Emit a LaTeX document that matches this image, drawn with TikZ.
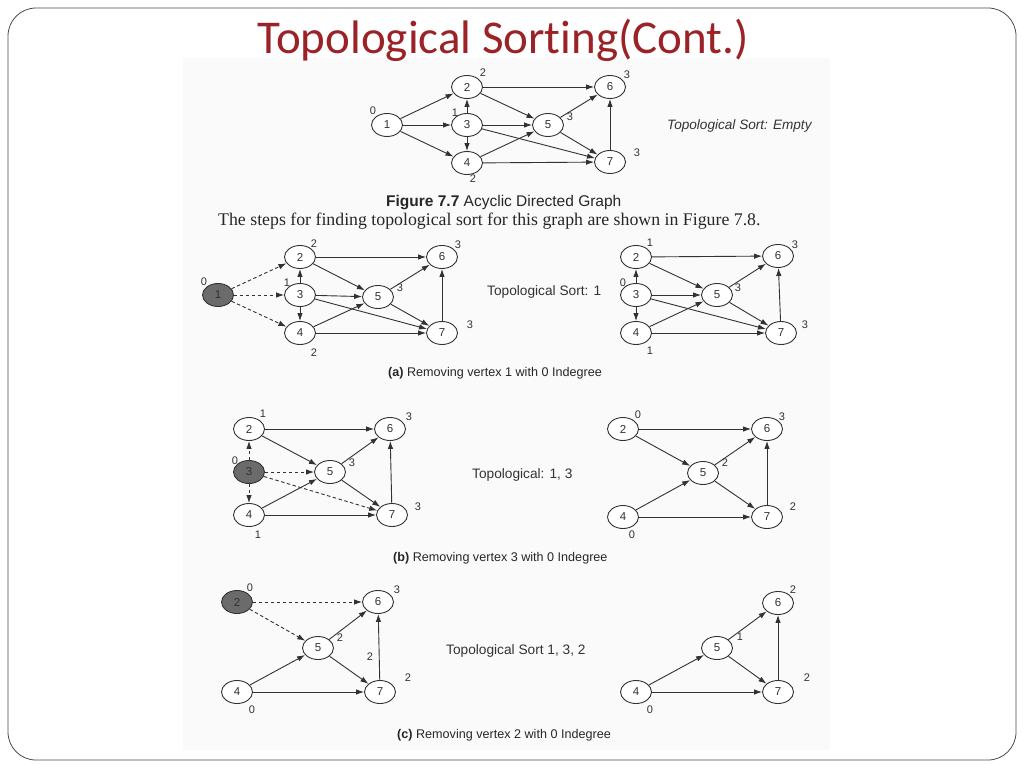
\documentclass[tikz,border=0pt]{standalone}
\usepackage{fontspec}
\setmainfont{Liberation Sans}
\newfontfamily\serifb{Liberation Serif}
\newfontfamily\titlef[Ligatures={NoCommon}]{Carlito}
\usetikzlibrary{shapes.geometric,arrows.meta}
\definecolor{titlered}{RGB}{155,34,38}
\definecolor{ink}{RGB}{50,50,50}
\begin{document}
\begin{tikzpicture}[x=1pt,y=-1pt,
  vtx/.style={ellipse,draw=ink,line width=0.9pt,fill=white,minimum width=31pt,minimum height=23pt,inner sep=0pt,font=\fontsize{11.5}{11.5}\selectfont,text=ink},
  vgray/.style={vtx,fill=black!58},
  deg/.style={font=\fontsize{11}{11}\selectfont,text=ink,inner sep=0pt},
  lnk/.style={draw=ink,line width=0.9pt,-{Latex[length=8pt,width=5.5pt]}},
  dlnk/.style={lnk,dash pattern=on 3.5pt off 2.5pt},
  sorttxt/.style={font=\fontsize{13.7}{14}\selectfont,text=black!80,inner sep=0pt,anchor=west},
  captxt/.style={font=\fontsize{12.6}{13}\selectfont,text=black!85,inner sep=0pt,anchor=west},
]
\useasboundingbox (0,0) rectangle (1024,768);
\fill[white] (0,0) rectangle (1024,768);
\draw[black!70,line width=0.8pt,rounded corners=28pt] (8,8) rectangle (1016,760);
\fill[black!2] (183,58) rectangle (830,750);
\node[font=\titlef\fontsize{47}{47}\selectfont,text=titlered,inner sep=0pt] (title) at (503,40) {Topological Sorting(Cont.)};

% ---------- Figure 7.7 ----------
\node[vtx] (a1) at (387,125) {1};
\node[vtx] (a2) at (467,87) {2};
\node[vtx] (a3) at (467,125) {3};
\node[vtx] (a4) at (467,163) {4};
\node[vtx] (a5) at (548,125) {5};
\node[vtx] (a6) at (610,87) {6};
\node[vtx] (a7) at (610,162) {7};
\foreach \s/\t in {1/2,1/3,1/4,2/6,2/5,3/2,3/5,3/4,3/7,4/5,4/7,5/6,5/7,7/6}
  \draw[lnk] (a\s) -- (a\t);
\node[deg] (ad1) at (373,111) {0};
\node[deg] (ad2) at (483,73) {2};
\node[deg] (ad3) at (455,113) {1};
\node[deg] (ad5) at (570,117) {3};
\node[deg] (ad6) at (627,75) {3};
\node[deg] (ad7) at (637,153) {3};
\node[deg] (ad4) at (473,179) {2};
\node[sorttxt,font=\itshape\fontsize{13.6}{14}\selectfont] (asort) at (667,126) {Topological Sort: Empty};
\node[captxt,font=\fontsize{15.5}{16}\selectfont] (acap) at (386,203) {\textbf{Figure 7.7} Acyclic Directed Graph};
\node[captxt,font=\serifb\fontsize{17.8}{18}\selectfont,text=black!85] (steps) at (218,221) {The steps for finding topological sort for this graph are shown in Figure 7.8.};

% ---------- (a) left ----------
\node[vgray] (b1) at (218,295) {1};
\node[vtx] (b2) at (300,257) {2};
\node[vtx] (b3) at (300,295) {3};
\node[vtx] (b4) at (300,333) {4};
\node[vtx] (b5) at (378,297) {5};
\node[vtx] (b6) at (442,257) {6};
\node[vtx] (b7) at (442,333) {7};
\foreach \t in {2,3,4} \draw[dlnk] (b1) -- (b\t);
\foreach \s/\t in {2/6,2/5,3/2,3/5,3/4,3/7,4/5,4/7,5/6,5/7,7/6}
  \draw[lnk] (b\s) -- (b\t);
\node[deg] (bd1) at (204,282) {0};
\node[deg] (bd2) at (314,244) {2};
\node[deg] (bd3) at (287,283) {1};
\node[deg] (bd5) at (400,288) {3};
\node[deg] (bd6) at (458,245) {3};
\node[deg] (bd7) at (470,325) {3};
\node[deg] (bd4) at (314,353) {2};
\node[sorttxt] (bsort) at (487,292) {Topological Sort: 1};

% ---------- (a) right ----------
\node[vtx] (c2) at (636,257) {2};
\node[vtx] (c3) at (636,295) {3};
\node[vtx] (c4) at (636,333) {4};
\node[vtx] (c5) at (717,295) {5};
\node[vtx] (c6) at (778,256) {6};
\node[vtx] (c7) at (781,333) {7};
\foreach \s/\t in {2/6,2/5,3/2,3/5,3/4,3/7,4/5,4/7,5/6,5/7,7/6}
  \draw[lnk] (c\s) -- (c\t);
\node[deg] (cd2) at (650,243) {1};
\node[deg] (cd3) at (623,283) {0};
\node[deg] (cd5) at (738,288) {3};
\node[deg] (cd6) at (795,245) {3};
\node[deg] (cd7) at (805,325) {3};
\node[deg] (cd4) at (650,351) {1};
\node[captxt] (capa) at (388,373) {\textbf{(a)} Removing vertex 1 with 0 Indegree};

% ---------- (b) left ----------
\node[vtx] (d2) at (249,429) {2};
\node[vgray] (d3) at (249,472) {3};
\node[vtx] (d4) at (249,515) {4};
\node[vtx] (d5) at (330,472) {5};
\node[vtx] (d6) at (390,429) {6};
\node[vtx] (d7) at (392,515) {7};
\foreach \t in {2,5,4,7} \draw[dlnk] (d3) -- (d\t);
\foreach \s/\t in {2/6,2/5,4/5,4/7,5/6,5/7,7/6}
  \draw[lnk] (d\s) -- (d\t);
\node[deg] (dd2) at (263,414) {1};
\node[deg] (dd3) at (235,461) {0};
\node[deg] (dd5) at (352,463) {3};
\node[deg] (dd6) at (409,417) {3};
\node[deg] (dd7) at (418,507) {3};
\node[deg] (dd4) at (258,535) {1};
\node[sorttxt] (dsort) at (472,475) {Topological: 1, 3};

% ---------- (b) right ----------
\node[vtx] (e2) at (623,429) {2};
\node[vtx] (e5) at (703,473) {5};
\node[vtx] (e6) at (767,429) {6};
\node[vtx] (e4) at (623,517) {4};
\node[vtx] (e7) at (767,517) {7};
\foreach \s/\t in {2/6,2/5,4/5,4/7,5/6,5/7,7/6}
  \draw[lnk] (e\s) -- (e\t);
\node[deg] (ed2) at (638,415) {0};
\node[deg] (ed5) at (725,463) {2};
\node[deg] (ed6) at (782,417) {3};
\node[deg] (ed7) at (793,507) {2};
\node[deg] (ed4) at (632,535) {0};
\node[captxt] (capb) at (393,558) {\textbf{(b)} Removing vertex 3 with 0 Indegree};

% ---------- (c) left ----------
\node[vgray] (f2) at (237,602) {2};
\node[vtx] (f6) at (378,602) {6};
\node[vtx] (f5) at (318,648) {5};
\node[vtx] (f4) at (237,692) {4};
\node[vtx] (f7) at (380,692) {7};
\foreach \t in {6,5} \draw[dlnk] (f2) -- (f\t);
\foreach \s/\t in {4/5,4/7,5/6,5/7,7/6}
  \draw[lnk] (f\s) -- (f\t);
\node[deg] (fd2) at (250,588) {0};
\node[deg] (fd6) at (397,590) {3};
\node[deg] (fd5) at (340,638) {2};
\node[deg] (fdx) at (370,657) {2};
\node[deg] (fd7) at (408,678) {2};
\node[deg] (fd4) at (252,710) {0};
\node[sorttxt] (fsort) at (446,651) {Topological Sort 1, 3, 2};

% ---------- (c) right ----------
\node[vtx] (g6) at (778,603) {6};
\node[vtx] (g5) at (717,648) {5};
\node[vtx] (g4) at (636,692) {4};
\node[vtx] (g7) at (778,692) {7};
\foreach \s/\t in {4/5,4/7,5/6,5/7,7/6}
  \draw[lnk] (g\s) -- (g\t);
\node[deg] (gd6) at (793,590) {2};
\node[deg] (gd5) at (740,637) {1};
\node[deg] (gd7) at (807,678) {2};
\node[deg] (gd4) at (650,710) {0};
\node[captxt] (capc) at (397,735) {\textbf{(c)} Removing vertex 2 with 0 Indegree};
\end{tikzpicture}
\end{document}
